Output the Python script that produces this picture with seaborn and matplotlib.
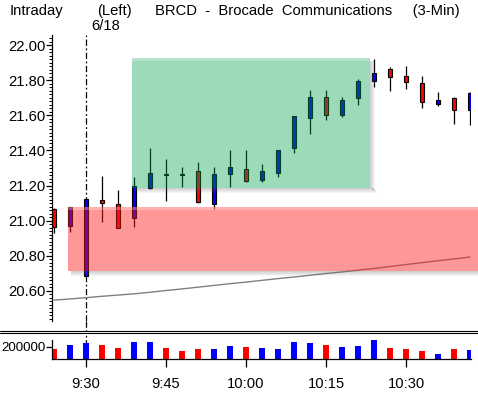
import numpy as np
import pandas as pd
import matplotlib
matplotlib.use("Agg")
import matplotlib.pyplot as plt
import seaborn as sns
from matplotlib.patches import Rectangle
from matplotlib.lines import Line2D
import matplotlib.transforms as mtransforms
from matplotlib.ticker import MultipleLocator, FormatStrFormatter, FixedLocator

# ---------------- data ----------------
times = ["9:24", "9:27", "9:30", "9:33", "9:36", "9:39", "9:42", "9:45", "9:48",
         "9:51", "9:54", "9:57", "10:00", "10:03", "10:06", "10:09", "10:12",
         "10:15", "10:18", "10:21", "10:24", "10:27", "10:30", "10:33", "10:36",
         "10:39", "10:42"]
opens = [21.066, 20.971, 20.686, 21.116, 21.095, 21.013, 21.188, 21.262, 21.262,
         21.283, 21.096, 21.268, 21.294, 21.230, 21.273, 21.416, 21.584, 21.703,
         21.601, 21.701, 21.798, 21.863, 21.825, 21.783, 21.667, 21.698, 21.629]
highs = [21.070, 21.076, 21.122, 21.256, 21.175, 21.247, 21.414, 21.351, 21.306,
         21.334, 21.306, 21.403, 21.403, 21.323, 21.401, 21.595, 21.745, 21.745,
         21.705, 21.808, 21.922, 21.875, 21.882, 21.825, 21.734, 21.705, 21.734]
lows = [20.930, 20.937, 20.685, 20.994, 20.956, 20.965, 21.182, 21.112, 21.193,
        21.102, 21.064, 21.193, 21.220, 21.222, 21.250, 21.387, 21.494, 21.574,
        21.593, 21.659, 21.764, 21.741, 21.752, 21.644, 21.655, 21.553, 21.547]
closes = [20.963, 21.076, 21.122, 21.099, 20.960, 21.197, 21.272, 21.258, 21.258,
          21.108, 21.266, 21.306, 21.228, 21.281, 21.401, 21.595, 21.703, 21.601,
          21.686, 21.795, 21.842, 21.817, 21.789, 21.678, 21.686, 21.629, 21.730]
volumes = [160000, 224000, 256000, 224000, 176000, 272000, 272000, 176000, 128000,
           160000, 160000, 208000, 192000, 176000, 160000, 272000, 256000, 224000,
           192000, 208000, 304000, 176000, 160000, 128000, 80000, 160000, 144000]
ma_line = [20.546, 20.553, 20.560, 20.568, 20.575, 20.582, 20.591, 20.601, 20.610,
           20.620, 20.630, 20.640, 20.649, 20.659, 20.669, 20.678, 20.688, 20.698,
           20.707, 20.717, 20.727, 20.738, 20.749, 20.760, 20.771, 20.781, 20.792]
tick_times = ["9:30", "9:45", "10:00", "10:15", "10:30"]
price_ticks = [20.60, 20.80, 21.00, 21.20, 21.40, 21.60, 21.80, 22.00]
volume_ticks = [200000]

# zones (bar index span, price span)
green_zone = dict(x0=4.856, x1=19.75, y0=21.186, y1=21.926)
red_zone = dict(x0=0.894, x1=27.0, y0=20.712, y1=21.076)

# ---------------- style ----------------
sns.set_theme(style="white")
plt.rcParams["font.family"] = ["Liberation Sans", "DejaVu Sans"]
plt.rcParams["font.size"] = 10.6

W, H = 478, 394
fig = plt.figure(figsize=(W / 100, H / 100), dpi=100)
fig.patch.set_facecolor("white")


def fx(px):
    return px / W


def fy(py):
    return 1 - py / H


ax_p = fig.add_axes([fx(52), fy(321), fx(471) - fx(52), fy(35) - fy(321)])
ax_v = fig.add_axes([fx(52), fy(359), fx(471) - fx(52), fy(333) - fy(359)])
for ax in (ax_p, ax_v):
    ax.set_facecolor("none")

n = len(times)
idx = np.arange(n)
o = np.array(opens); c = np.array(closes); h = np.array(highs); l = np.array(lows)
up = c >= o
direction = np.where(up, "up", "down")
BLUE, RED = "#0000ff", "#ff0000"
col = np.where(up, BLUE, RED)

# ---- price panel ----
sns.lineplot(x=idx, y=ma_line, ax=ax_p, color="#808080", lw=1.0, zorder=1)
ax_p.vlines(idx, l, h, color="black", lw=0.9, zorder=1.5)
body_h = np.maximum(np.abs(c - o), 0.006)
ax_p.bar(idx, body_h, bottom=np.minimum(o, c), width=0.30, color=col,
         edgecolor="black", linewidth=0.8, zorder=2)

ax_p.axvline(2, color="black", lw=0.9, ls=(0, (5, 2, 1.5, 2)), zorder=0.5)

PXX = 1 / 16.0      # one pixel in bar units
PXY = 1 / 175.3     # one pixel in price units


def zone(ax, z, color, alpha, right_shadow=True):
    x0, x1, y0, y1 = z["x0"], z["x1"], z["y0"], z["y1"]
    # shadow strips (bottom and right)
    for k in range(1, 6):
        a = 0.30 * (1 - (k - 1) / 5)
        ax.add_patch(Rectangle((x0 + 3 * PXX, y0 - k * PXY), (x1 - x0) + (k) * PXX, PXY,
                               facecolor="#606060", alpha=a, lw=0, zorder=2.6,
                               clip_on=False))
        if right_shadow:
            ax.add_patch(Rectangle((x1 + (k - 1) * PXX, y0 - (k - 1) * PXY), PXX,
                                   (y1 - y0) - 3 * PXY + (k - 1) * PXY,
                                   facecolor="#606060", alpha=a, lw=0, zorder=2.6,
                                   clip_on=False))
    ax.add_patch(Rectangle((x0, y0), x1 - x0, y1 - y0, facecolor=color, alpha=alpha,
                           lw=0, zorder=3, clip_on=False))
    # light top highlight
    ax.add_patch(Rectangle((x0, y1 - 3 * PXY), x1 - x0, 3 * PXY, facecolor="white",
                           alpha=0.25, lw=0, zorder=3.1, clip_on=False))


zone(ax_p, green_zone, (0.0, 160 / 255, 75 / 255), 0.39)
zone(ax_p, red_zone, (1.0, 0.1, 0.1), 0.45, right_shadow=False)

ax_p.set_xlim(-0.125, 26.06)
ax_p.set_ylim(20.427, 22.059)
ax_p.yaxis.set_major_locator(FixedLocator(price_ticks))
ax_p.yaxis.set_major_formatter(FormatStrFormatter("%.2f"))
ax_p.yaxis.set_minor_locator(MultipleLocator(0.02))
ax_p.set_xticks([])
for s in ("top", "right", "bottom"):
    ax_p.spines[s].set_visible(False)
ax_p.spines["left"].set_color("black")
ax_p.spines["left"].set_linewidth(0.9)
ax_p.tick_params(axis="y", which="major", direction="out", length=4, width=0.9,
                 pad=0.8, labelsize=10.6, colors="black", left=True)
ax_p.tick_params(axis="y", which="minor", direction="out", length=2, width=0.7,
                 left=True, colors="black")
ax_p.set_xlabel(""); ax_p.set_ylabel("")

# ---- volume panel ----
vol_df = pd.DataFrame({"idx": idx, "volume": volumes, "dir": direction})
sns.barplot(data=vol_df, x="idx", y="volume", hue="dir",
            palette={"up": BLUE, "down": RED}, dodge=False, width=0.34,
            native_scale=True, saturation=1, errorbar=None, legend=False,
            linewidth=0, ax=ax_v)
ax_v.axvline(2, color="black", lw=0.9, ls=(0, (5, 2, 1.5, 2)), zorder=0.5)
ax_v.set_xlim(-0.125, 26.06)
ax_v.set_ylim(0, 416000)
ax_v.set_yticks(volume_ticks)
ax_v.set_yticklabels([str(v) for v in volume_ticks])
tick_pos = [times.index(t) for t in tick_times]
ax_v.set_xticks(tick_pos)
ax_v.set_xticklabels(tick_times)
for s in ("top", "right"):
    ax_v.spines[s].set_visible(False)
ax_v.spines["left"].set_bounds(0, 300000)
for s in ("left", "bottom"):
    ax_v.spines[s].set_color("black")
    ax_v.spines[s].set_linewidth(0.9)
ax_v.tick_params(axis="y", direction="out", length=4, width=0.9, pad=0.3,
                 labelsize=9.6, colors="black", left=True)
ax_v.tick_params(axis="x", direction="out", length=6, width=0.9, pad=7,
                 labelsize=10.6, colors="black", bottom=True)
ax_v.set_xlabel(""); ax_v.set_ylabel("")

# dash-dot line in the gap between panels
blend = mtransforms.blended_transform_factory(ax_p.transData, fig.transFigure)
fig.add_artist(Line2D([2, 2], [fy(321), fy(333)], transform=blend, color="black",
                      lw=0.9, ls=(0, (5, 2, 1.5, 2))))

# double separator line
for yy in (330.5, 333.0):
    fig.add_artist(Line2D([0, 1], [fy(yy), fy(yy)], transform=fig.transFigure,
                          color="black", lw=0.8))

# header texts
fig.text(fx(10), fy(15), "Intraday", fontsize=10.6, color="black", va="baseline")
fig.text(fx(97), fy(15), "(Left)", fontsize=10.6, color="black", va="baseline")
fig.text(fx(155), fy(15), "BRCD  -  Brocade  Communications     (3-Min)",
         fontsize=10.6, color="black", va="baseline")
fig.text(fx(91), fy(30), "6/18", fontsize=10.6, color="black", va="baseline")

fig.savefig("out.png", dpi=100, facecolor="white")
